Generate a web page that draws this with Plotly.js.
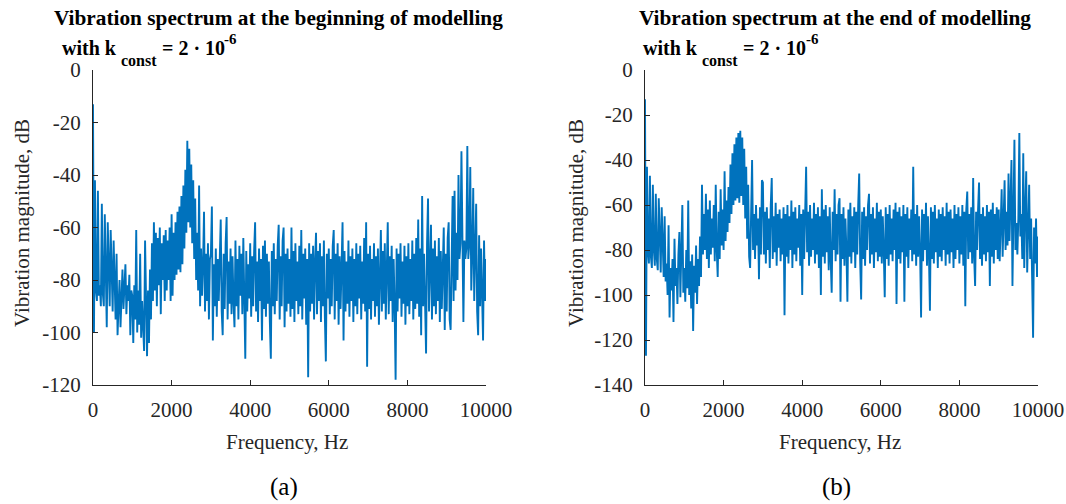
<!DOCTYPE html>
<html>
<head>
<meta charset="utf-8">
<script src="https://cdn.plot.ly/plotly-3.0.1.min.js"></script>
<style>
  html, body { margin: 0; padding: 0; background: #fff; }
  #chart { width: 1066px; height: 504px; }
</style>
</head>
<body>
<div id="chart"></div>
<script>
// Spectrum bins: one value every 25 Hz from 0 to 10000 Hz
const FREQ_STEP = 25;

// (a) Vibration magnitude, dB, at the beginning of modelling
const specA = [
  // 0 - 475 Hz
  -13, -100, -42, -84, -88, -46, -86, -82, -90, -51, -85, -90, -55, -84, -98, -58, -83, -90, -61, -86,
  // 500 - 975 Hz
  -92, -65, -82, -95, -70, -101, -90, -80, -98, -83, -76, -91, -84, -74, -93, -82, -88, -78, -101, -84,
  // 1000 - 1475 Hz
  -86, -104, -82, -95, -61, -100, -84, -97, -70, -102, -88, -99, -107, -65, -98, -109, -84, -104, -76, -95,
  // 1500 - 1975 Hz
  -66, -88, -58, -84, -62, -90, -64, -82, -60, -93, -66, -80, -63, -88, -61, -84, -65, -80, -60, -88,
  // 2000 - 2475 Hz
  -55, -86, -62, -80, -58, -78, -54, -76, -52, -77, -48, -74, -44, -68, -38, -62, -27, -58, -30, -60,
  // 2500 - 2975 Hz
  -36, -66, -42, -72, -49, -80, -62, -84, -44, -90, -68, -86, -74, -54, -92, -70, -88, -66, -95, -72,
  // 3000 - 3475 Hz
  -70, -52, -103, -74, -90, -68, -94, -72, -88, -66, -57, -92, -101, -70, -91, -66, -56, -95, -73, -89,
  // 3500 - 3975 Hz
  -68, -93, -71, -88, -98, -65, -90, -72, -95, -67, -86, -70, -93, -64, -89, -110, -69, -92, -74, -87,
  // 4000 - 4475 Hz
  -66, -94, -71, -90, -69, -58, -92, -73, -96, -68, -88, -72, -103, -67, -91, -65, -94, -70, -89, -73,
  // 4500 - 4975 Hz
  -96, -110, -69, -90, -66, -93, -72, -88, -67, -59, -95, -71, -90, -65, -60, -98, -70, -92, -68, -89,
  // 5000 - 5475 Hz
  -72, -94, -60, -91, -69, -96, -66, -88, -73, -93, -67, -90, -61, -95, -70, -87, -68, -97, -72, -117,
  // 5500 - 5975 Hz
  -66, -92, -70, -89, -67, -95, -73, -62, -93, -69, -88, -66, -96, -71, -90, -65, -94, -111, -70, -87,
  // 6000 - 6475 Hz
  -68, -93, -72, -90, -67, -61, -95, -70, -88, -66, -97, -71, -91, -67, -58, -103, -69, -92, -73, -89,
  // 6500 - 6975 Hz
  -65, -94, -71, -88, -68, -96, -72, -90, -66, -93, -70, -87, -67, -95, -73, -89, -64, -92, -58, -113,
  // 7000 - 7475 Hz
  -70, -91, -67, -95, -72, -88, -66, -94, -71, -90, -68, -97, -73, -61, -92, -69, -89, -66, -95, -70,
  // 7500 - 7975 Hz
  -58, -93, -71, -88, -67, -96, -72, -90, -118, -68, -92, -70, -87, -66, -94, -73, -89, -67, -97, -71,
  // 8000 - 8475 Hz
  -90, -66, -93, -72, -88, -65, -95, -70, -91, -64, -89, -57, -94, -68, -101, -48, -90, -70, -93, -108,
  // 8500 - 8975 Hz
  -66, -49, -92, -70, -59, -95, -68, -90, -65, -93, -71, -88, -64, -96, -69, -91, -66, -60, -99, -70,
  // 9000 - 9475 Hz
  -92, -64, -58, -95, -99, -66, -48, -88, -46, -84, -62, -80, -40, -72, -66, -31, -70, -96, -65, -72,
  // 9500 - 10000 Hz
  -68, -29, -72, -66, -37, -84, -70, -45, -88, -66, -51, -92, -101, -63, -90, -68, -86, -103, -65, -88, -72
];

// (b) Vibration magnitude, dB, at the end of modelling
const specB = [
  // 0 - 475 Hz
  -13, -127, -43, -80, -86, -47, -83, -88, -51, -80, -87, -55, -84, -89, -57, -82, -90, -61, -86, -92,
  // 500 - 975 Hz
  -65, -94, -86, -100, -69, -110, -88, -98, -84, -112, -75, -96, -88, -104, -82, -72, -101, -86, -60, -99,
  // 1000 - 1475 Hz
  -88, -103, -80, -97, -58, -100, -85, -106, -82, -116, -87, -99, -78, -104, -84, -96, -74, -92, -51, -82,
  // 1500 - 1975 Hz
  -64, -80, -55, -84, -62, -88, -58, -82, -66, -79, -60, -85, -51, -80, -92, -63, -84, -53, -78, -62,
  // 2000 - 2475 Hz
  -80, -45, -76, -58, -72, -52, -68, -42, -64, -37, -60, -33, -58, -30, -57, -28, -59, -27, -56, -30,
  // 2500 - 2975 Hz
  -60, -35, -66, -43, -75, -51, -83, -88, -62, -40, -80, -64, -84, -60, -78, -66, -93, -61, -82, -49,
  // 3000 - 3475 Hz
  -50, -82, -63, -86, -61, -80, -66, -88, -60, -48, -84, -65, -81, -59, -87, -64, -79, -62, -85, -66,
  // 3500 - 3975 Hz
  -82, -61, -109, -64, -83, -60, -86, -65, -80, -58, -88, -63, -82, -61, -85, -66, -79, -60, -87, -64,
  // 4000 - 4475 Hz
  -100, -62, -84, -65, -43, -81, -63, -87, -60, -83, -66, -80, -59, -86, -64, -82, -61, -88, -65, -100,
  // 4500 - 4975 Hz
  -53, -83, -62, -86, -60, -81, -65, -89, -61, -84, -99, -63, -80, -53, -85, -64, -82, -60, -57, -103,
  // 5000 - 5475 Hz
  -64, -84, -61, -87, -66, -80, -103, -62, -83, -59, -86, -65, -81, -61, -88, -63, -82, -60, -46, -85,
  // 5500 - 5975 Hz
  -102, -63, -84, -61, -87, -65, -80, -60, -55, -86, -64, -82, -61, -88, -66, -81, -59, -85, -63, -83,
  // 6000 - 6475 Hz
  -62, -86, -65, -80, -101, -61, -84, -64, -87, -60, -82, -66, -85, -62, -80, -59, -104, -63, -84, -61,
  // 6500 - 6975 Hz
  -86, -65, -81, -60, -103, -64, -83, -61, -88, -66, -80, -62, -85, -43, -82, -64, -87, -60, -83, -65,
  // 7000 - 7475 Hz
  -81, -110, -62, -85, -64, -80, -59, -87, -65, -82, -107, -61, -84, -63, -86, -60, -81, -66, -88, -62,
  // 7500 - 7975 Hz
  -83, -64, -85, -61, -80, -65, -87, -59, -82, -63, -86, -62, -81, -66, -88, -60, -84, -64, -80, -61,
  // 8000 - 8475 Hz
  -86, -65, -82, -60, -87, -63, -105, -62, -54, -84, -64, -81, -61, -86, -48, -83, -96, -63, -80, -62,
  // 8500 - 8975 Hz
  -50, -84, -64, -87, -61, -82, -65, -85, -60, -81, -63, -96, -62, -83, -59, -86, -64, -80, -61, -84,
  // 9000 - 9475 Hz
  -62, -85, -60, -53, -83, -61, -49, -80, -63, -78, -46, -76, -60, -40, -96, -62, -31, -80, -68, -82,
  // 9500 - 10000 Hz
  -66, -28, -74, -64, -84, -37, -88, -62, -45, -90, -64, -51, -84, -66, -92, -119, -70, -86, -66, -92, -74
];

// Axis ticks
const xTicks = [0, 2000, 4000, 6000, 8000, 10000];
const yTicksA = [0, -20, -40, -60, -80, -100, -120];
const yTicksB = [0, -20, -40, -60, -80, -100, -120, -140];

// Text
const titleLine1A = 'Vibration spectrum at the beginning of modelling';
const titleLine1B = 'Vibration spectrum at the end of modelling';
const titleWith = 'with k';
const titleSub = 'const';
const titleEq = '= 2 \u00b7 10';
const titleSup = '-6';
const xLabel = 'Frequency, Hz';
const yLabel = 'Vibration magnitude, dB';
const panelLabels = ['(a)', '(b)'];

const W = 1066, H = 504;
const px = x => x / W;
const py = y => 1 - y / H;

const freqA = specA.map((_, i) => i * FREQ_STEP);
const freqB = specB.map((_, i) => i * FREQ_STEP);

const LINE = '#0072BD';
const AX = '#262626';
const SERIF = 'Liberation Serif, Times New Roman, serif';

const traces = [
  { x: freqA, y: specA, type: 'scatter', mode: 'lines', xaxis: 'x', yaxis: 'y',
    line: { color: LINE, width: 1.9 }, hoverinfo: 'skip' },
  { x: freqB, y: specB, type: 'scatter', mode: 'lines', xaxis: 'x2', yaxis: 'y2',
    line: { color: LINE, width: 1.9 }, hoverinfo: 'skip' }
];

function xAxis(domain, anchor) {
  return {
    domain: domain, anchor: anchor, range: [0, 10000],
    tickvals: xTicks, ticktext: xTicks.map(String),
    showline: true, linecolor: AX, linewidth: 1, mirror: false,
    ticks: 'inside', ticklen: 5, tickcolor: AX, tickwidth: 1,
    showgrid: false, zeroline: false,
    tickfont: { family: SERIF, size: 21, color: AX },
    ticklabelstandoff: 6,
    fixedrange: true
  };
}
function yAxis(domain, anchor, ticks, min) {
  return {
    domain: domain, anchor: anchor, range: [min, 0],
    tickvals: ticks, ticktext: ticks.map(String),
    showline: true, linecolor: AX, linewidth: 1, mirror: false,
    ticks: 'inside', ticklen: 5, tickcolor: AX, tickwidth: 1,
    showgrid: false, zeroline: false,
    tickfont: { family: SERIF, size: 21, color: AX },
    ticklabelstandoff: 7,
    fixedrange: true
  };
}

const yDom = [py(385), py(70)];

function text(t, x, y, opts) {
  return Object.assign({
    text: t, xref: 'paper', yref: 'paper', x: px(x), y: py(y),
    showarrow: false, xanchor: 'center', yanchor: 'middle',
    font: { family: SERIF, size: 21, color: '#000' }
  }, opts || {});
}
const bold = (size) => ({ family: SERIF, size: size, color: '#000', weight: 'bold' });

// Two-line bold title; second line is assembled from pieces so the
// subscript and the exponent sit at their own offsets.
function titleBlock(line1, x1, xWith, xSub, xEq, xSup) {
  return [
    text(line1, x1, 18, { xanchor: 'left', font: bold(21.3) }),
    text(titleWith, xWith, 48, { xanchor: 'left', font: bold(20) }),
    text(titleSub, xSub, 60, { xanchor: 'left', font: bold(16) }),
    text(titleEq, xEq, 48, { xanchor: 'left', font: bold(20) }),
    text(titleSup, xSup, 39, { xanchor: 'left', font: bold(15) })
  ];
}

const annotations = [
  ...titleBlock(titleLine1A, 52, 60, 119, 160, 222),
  ...titleBlock(titleLine1B, 637, 641, 700, 741, 804),
  text(xLabel, 287, 442, { font: { family: SERIF, size: 21, color: AX } }),
  text(xLabel, 840, 442, { font: { family: SERIF, size: 21, color: AX } }),
  text(yLabel, 22, 223, { textangle: -90, font: { family: SERIF, size: 21, color: AX } }),
  text(yLabel, 576, 223, { textangle: -90, font: { family: SERIF, size: 21, color: AX } }),
  text(panelLabels[0], 284, 487, { font: { family: SERIF, size: 25, color: '#000' } }),
  text(panelLabels[1], 836, 487, { font: { family: SERIF, size: 25, color: '#000' } })
];

const layout = {
  width: W, height: H,
  margin: { l: 0, r: 0, t: 0, b: 0 },
  paper_bgcolor: '#fff', plot_bgcolor: '#fff',
  showlegend: false,
  xaxis: xAxis([px(93), px(486)], 'y'),
  yaxis: yAxis(yDom, 'x', yTicksA, -120),
  xaxis2: xAxis([px(645), px(1038)], 'y2'),
  yaxis2: yAxis(yDom, 'x2', yTicksB, -140),
  annotations: annotations
};

Plotly.newPlot('chart', traces, layout, { displayModeBar: false, staticPlot: true });
</script>
</body>
</html>
